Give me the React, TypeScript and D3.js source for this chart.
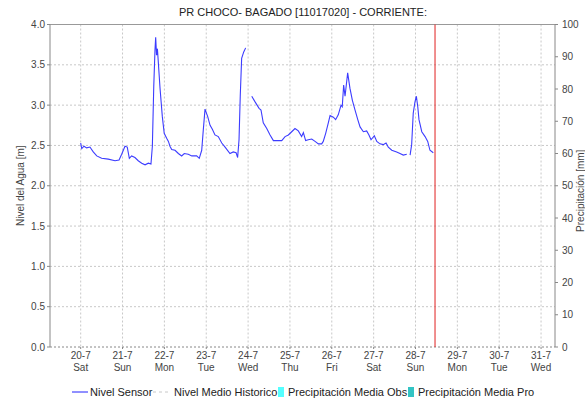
import React from "react";
import * as d3 from "d3";

const title = "PR CHOCO- BAGADO [11017020] - CORRIENTE:";
const leftAxisTitle = "Nivel del Agua [m]";
const rightAxisTitle = "Precipitación [mm]";

const dayLabels = ["20-7", "21-7", "22-7", "23-7", "24-7", "25-7", "26-7", "27-7", "28-7", "29-7", "30-7", "31-7"];
const weekdayLabels = ["Sat", "Sun", "Mon", "Tue", "Wed", "Thu", "Fri", "Sat", "Sun", "Mon", "Tue", "Wed"];
const leftTicks = [0, 0.5, 1, 1.5, 2, 2.5, 3, 3.5, 4];
const rightTicks = [0, 10, 20, 30, 40, 50, 60, 70, 80, 90, 100];

// hours since 20-7 00:00
const sensorHours = [
  0, 0.6, 1.9, 3.4, 5.3, 7.2, 9.2, 12.0, 15.8, 19.7, 22.0, 23.5, 25.4, 26.7, 27.9, 29.2, 31.1, 33.0, 35.0, 36.9,
  38.8, 40.3, 41.1, 41.9, 42.6, 43.0, 43.5, 44.0, 45.5, 46.8, 47.9, 49.3, 50.3, 51.2, 52.2, 54.1, 56.0, 57.9, 59.4,
  61.7, 63.7, 66.5, 68.0, 69.4, 70.3, 71.3, 72.8, 74.2, 75.5, 77.0, 78.9, 80.9, 82.8, 85.6, 87.5, 89.1, 90.0, 90.8,
  91.5, 92.3, 93.5, 94.6, 96.0, 98.1, 100.0, 102.3, 103.4, 104.7, 106.7, 108.6, 110.5, 112.4, 115.3, 117.2, 119.1,
  121.0, 122.9, 124.8, 126.7, 127.7, 129.0, 130.5, 132.5, 134.4, 136.3, 138.2, 139.1, 140.5, 142.0, 143.0, 144.9,
  146.2, 147.7, 149.3, 150.0, 150.8, 151.6, 153.1, 154.4, 155.8, 157.3, 158.9, 160.2, 162.1, 164.0, 165.3, 166.5,
  168.4, 169.8, 171.6, 173.5, 175.1, 176.4, 178.4, 181.2, 183.1, 185.0, 187.0, 188.0, 188.9, 189.8, 190.7, 191.7,
  192.5, 193.3, 194.0, 195.6, 197.5, 199.0, 200.3, 202.2,
];
const sensorLevels: (number | null)[] = [
  2.53, 2.46, 2.49, 2.47, 2.48, 2.42, 2.37, 2.34, 2.33, 2.31, 2.32, 2.39, 2.49, 2.48, 2.34, 2.37, 2.35, 2.31, 2.28, 2.26,
  2.28, 2.27, 2.49, 3.23, 3.68, 3.84, 3.62, 3.7, 3.21, 2.86, 2.65, 2.59, 2.55, 2.49, 2.45, 2.44, 2.4, 2.37, 2.4,
  2.39, 2.37, 2.37, 2.34, 2.44, 2.69, 2.95, 2.86, 2.75, 2.7, 2.63, 2.61, 2.53, 2.48, 2.4, 2.42, 2.41, 2.35, 2.57,
  3.11, 3.58, 3.66, 3.71, null, 3.11, 3.04, 2.96, 2.94, 2.78, 2.71, 2.63, 2.56, 2.56, 2.56, 2.61, 2.63,
  2.67, 2.71, 2.68, 2.61, 2.66, 2.56, 2.57, 2.58, 2.55, 2.52, 2.52, 2.55, 2.65, 2.78, 2.87, 2.85,
  2.82, 2.88, 3.0, 2.98, 3.25, 3.11, 3.4, 3.21, 3.06, 2.94, 2.82, 2.73, 2.67, 2.68, 2.63, 2.57,
  2.62, 2.55, 2.52, 2.51, 2.53, 2.48, 2.44, 2.42, 2.4, 2.38, 2.39, null, 2.38, 2.51, 2.9, 3.04,
  3.11, 2.98, 2.82, 2.67, 2.61, 2.55, 2.44, 2.41,
];
const currentHour = 203.2;
const domainHours = [-17.6, 272];

const legendItems = [
  { label: "Nivel Sensor", kind: "line", color: "#2020ff" },
  { label: "Nivel Medio Historico", kind: "dash", color: "#c8c8c8" },
  { label: "Precipitación Media Obs", kind: "box", color: "#55ffff" },
  { label: "Precipitación Media Pro", kind: "box", color: "#33c4c4" },
];

const W = 585, H = 403;
const L = 50, R = 555, T = 24.5, B = 347;
const FONT = "'Liberation Sans', Arial, sans-serif";

export default function App() {
  const x = d3.scaleLinear().domain(domainHours).range([L, R]);
  const y = d3.scaleLinear().domain([0, 4]).range([B, T]);
  const y2 = d3.scaleLinear().domain([0, 100]).range([B, T]);
  const pts = sensorHours.map((h, i) => [h, sensorLevels[i]] as [number, number | null]);
  const line = d3
    .line<[number, number | null]>()
    .defined((d) => d[1] !== null)
    .x((d) => x(d[0]))
    .y((d) => y(d[1] as number));
  const legendX = [72, 153, 278, 408];
  return (
    <svg width={W} height={H} style={{ position: "absolute", left: 0, top: 0, background: "#fff" }} fontFamily={FONT}>
      <rect x={0} y={0} width={W} height={H} fill="#fff" />
      <text x={303} y={16} textAnchor="middle" fontSize={11} fill="#222">{title}</text>
      {/* grid */}
      {leftTicks.map((t) => (
        <line key={"h" + t} x1={L} x2={R} y1={y(t)} y2={y(t)} stroke={t === 0 ? "#888" : "#c8c8c8"} strokeDasharray="2,2" />
      ))}
      {dayLabels.map((d, i) => (
        <line key={"v" + d} x1={x(i * 24)} x2={x(i * 24)} y1={T} y2={B} stroke="#c8c8c8" strokeDasharray="2,2" />
      ))}
      <line x1={L} x2={R} y1={T} y2={T} stroke="#999" />
      <line x1={L} x2={L} y1={T} y2={B} stroke="#888" />
      <line x1={R} x2={R} y1={T} y2={B} stroke="#888" />
      {/* left ticks */}
      {leftTicks.map((t) => (
        <g key={"lt" + t}>
          <line x1={L - 3} x2={L} y1={y(t)} y2={y(t)} stroke="#888" />
          <text x={L - 5} y={y(t) + 3.5} textAnchor="end" fontSize={10} fill="#444">{t.toFixed(1)}</text>
        </g>
      ))}
      {rightTicks.map((t) => (
        <g key={"rt" + t}>
          <line x1={R} x2={R + 3} y1={y2(t)} y2={y2(t)} stroke="#888" />
          <text x={R + 7} y={y2(t) + 3.5} textAnchor="start" fontSize={10} fill="#444">{t}</text>
        </g>
      ))}
      {dayLabels.map((d, i) => (
        <g key={"xl" + d}>
          <line x1={x(i * 24)} x2={x(i * 24)} y1={B} y2={B + 2} stroke="#888" />
          <text x={x(i * 24)} y={359} textAnchor="middle" fontSize={10} fill="#444">{d}</text>
          <text x={x(i * 24)} y={371} textAnchor="middle" fontSize={10} fill="#444">{weekdayLabels[i]}</text>
        </g>
      ))}
      <text transform={`translate(24,${(T + B) / 2}) rotate(-90)`} textAnchor="middle" fontSize={10} fill="#444">{leftAxisTitle}</text>
      <text transform={`translate(584,${(T + B) / 2 + 5}) rotate(-90)`} textAnchor="middle" fontSize={10} fill="#444">{rightAxisTitle}</text>
      {/* data */}
      <path d={line(pts) || ""} fill="none" stroke="#3c3cff" strokeWidth={1.1} />
      <line x1={x(currentHour)} x2={x(currentHour)} y1={T} y2={B} stroke="#e02020" strokeWidth={1} />
      {/* legend */}
      {legendItems.map((it, i) => {
        const lx = legendX[i];
        const cy = 392;
        return (
          <g key={it.label}>
            {it.kind === "line" && <line x1={lx} x2={lx + 16} y1={cy} y2={cy} stroke={it.color} strokeWidth={1} />}
            {it.kind === "dash" && <line x1={lx} x2={lx + 17} y1={cy} y2={cy} stroke={it.color} strokeDasharray="3,3" />}
            {it.kind === "box" && <rect x={lx} y={cy - 5} width={6} height={10} fill={it.color} />}
            <text x={lx + (it.kind === "box" ? 10 : it.kind === "dash" ? 21 : 18)} y={cy + 4} fontSize={11} fill="#222">{it.label}</text>
          </g>
        );
      })}
    </svg>
  );
}
